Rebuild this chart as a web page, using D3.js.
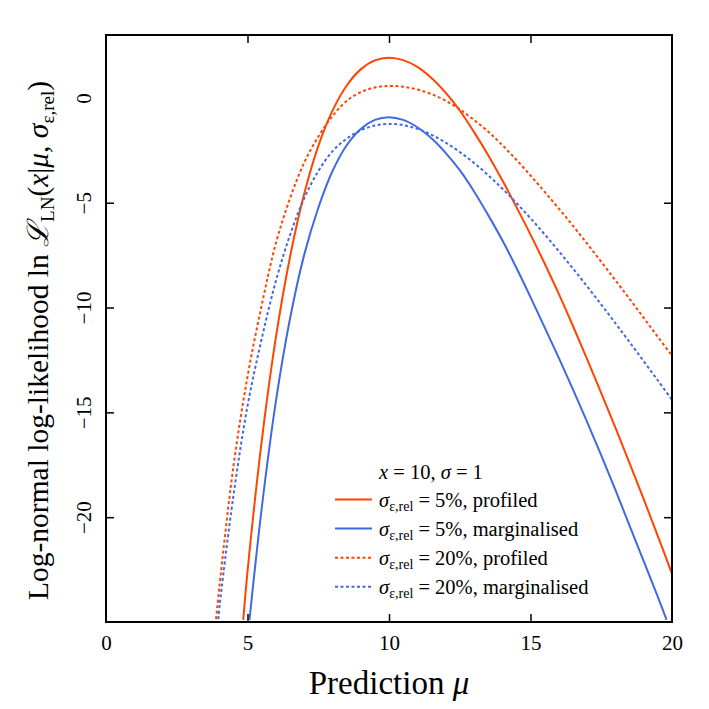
<!DOCTYPE html>
<html>
<head>
<meta charset="utf-8">
<script src="https://cdn.jsdelivr.net/npm/d3@7"></script>
<style>
  body { margin: 0; background: #fff; }
  text { font-family: "Liberation Serif", "DejaVu Serif", serif; fill: #000; }
</style>
</head>
<body>
<script>
// values
var muProf5  = [4.85, 5.0, 5.5, 6.0, 6.5, 7.0, 7.5, 8.0, 8.5, 9.0, 9.5, 10.0, 10.5, 11.0, 11.5, 12.0, 12.5, 13.0, 13.5, 14.0, 14.5, 15.0, 15.5, 16.0, 16.5, 17.0, 17.5, 18.0, 18.5, 19.0, 19.5, 20.0];
var llProf5  = [-24.9, -22.6, -16.4, -11.45, -7.6, -4.6, -2.3, -0.62, 0.58, 1.36, 1.79, 1.92, 1.8, 1.48, 0.95, 0.25, -0.6, -1.62, -2.72, -3.92, -5.2, -6.52, -7.9, -9.35, -10.88, -12.46, -14.08, -15.73, -17.42, -19.14, -20.9, -22.7];

var muMarg5  = [5.07, 5.5, 6.0, 6.5, 7.0, 7.5, 8.0, 8.5, 9.0, 9.5, 10.0, 10.5, 11.0, 11.5, 12.0, 12.5, 13.0, 13.5, 14.0, 14.5, 15.0, 15.5, 16.0, 16.5, 17.0, 17.5, 18.0, 18.5, 19.0, 19.5, 19.81];
var llMarg5  = [-24.9, -19.6, -14.5, -10.55, -7.5, -5.25, -3.5, -2.27, -1.48, -1.05, -0.92, -1.05, -1.4, -1.93, -2.62, -3.45, -4.45, -5.58, -6.78, -8.1, -9.5, -10.95, -12.4, -13.9, -15.45, -17.05, -18.7, -20.4, -22.1, -23.8, -24.9];

var muProf20 = [3.89, 4.0, 4.5, 5.0, 5.5, 6.0, 6.5, 7.0, 7.5, 8.0, 8.5, 9.0, 9.5, 10.0, 10.5, 11.0, 11.5, 12.0, 12.5, 13.0, 13.5, 14.0, 14.5, 15.0, 15.5, 16.0, 16.5, 17.0, 17.5, 18.0, 18.5, 19.0, 19.5, 20.0];
var llProf20 = [-24.86, -23.4, -17.6, -13.3, -9.9, -6.95, -4.8, -3.1, -1.85, -0.87, -0.15, 0.27, 0.5, 0.57, 0.53, 0.4, 0.18, -0.13, -0.55, -1.05, -1.6, -2.25, -2.95, -3.7, -4.48, -5.28, -6.1, -6.95, -7.82, -8.7, -9.59, -10.49, -11.4, -12.3];

var muMarg20 = [3.97, 4.0, 4.5, 5.0, 5.5, 6.0, 6.5, 7.0, 7.5, 8.0, 8.5, 9.0, 9.5, 10.0, 10.5, 11.0, 11.5, 12.0, 12.5, 13.0, 13.5, 14.0, 14.5, 15.0, 15.5, 16.0, 16.5, 17.0, 17.5, 18.0, 18.5, 19.0, 19.5, 20.0];
var llMarg20 = [-24.86, -24.4, -19.0, -14.7, -11.5, -8.75, -6.55, -4.8, -3.5, -2.55, -1.95, -1.55, -1.32, -1.24, -1.3, -1.48, -1.76, -2.13, -2.58, -3.1, -3.68, -4.32, -5.01, -5.74, -6.51, -7.31, -8.14, -8.99, -9.86, -10.75, -11.65, -12.56, -13.48, -14.4];

var xTicks = [0, 5, 10, 15, 20];
var yTicks = [0, -5, -10, -15, -20];
var pcts = ["5%", "5%", "20%", "20%"];
var kinds = ["profiled", "marginalised", "profiled", "marginalised"];

var W = 709, H = 709;
var margin = {left: 106, right: 37, top: 35, bottom: 87};

var svg = d3.select("body").append("svg").attr("width", W).attr("height", H);

var x = d3.scaleLinear().domain([0, 20]).range([margin.left, W - margin.right]);
var y = d3.scaleLinear().domain([-25, 3]).range([H - margin.bottom, margin.top]);

var series = [
  {mu: muProf5,  ll: llProf5,  color: "#ff4500", dash: null},
  {mu: muMarg5,  ll: llMarg5,  color: "#4169e1", dash: null},
  {mu: muProf20, ll: llProf20, color: "#ff4500", dash: "3,2.5"},
  {mu: muMarg20, ll: llMarg20, color: "#4169e1", dash: "3,2.5"}
];

svg.append("clipPath").attr("id", "clip")
  .append("rect")
  .attr("x", x(0)).attr("y", y(3))
  .attr("width", x(20) - x(0)).attr("height", y(-25) - y(3));

var line = d3.line()
  .x(function(d) { return x(d[0]); })
  .y(function(d) { return y(d[1]); })
  .curve(d3.curveCatmullRom.alpha(0.5));

var g = svg.append("g").attr("clip-path", "url(#clip)");
series.forEach(function(s) {
  var pts = s.mu.map(function(m, i) { return [m, s.ll[i]]; });
  g.append("path")
    .attr("d", line(pts))
    .attr("fill", "none")
    .attr("stroke", s.color)
    .attr("stroke-width", 2)
    .attr("stroke-dasharray", s.dash);
});

// frame with inward ticks
var tl = 8;
svg.append("g").attr("transform", "translate(0," + y(-25) + ")")
  .call(d3.axisBottom(x).tickValues(xTicks).tickSizeInner(-tl).tickSizeOuter(0).tickPadding(13).tickFormat(d3.format("d")));
svg.append("g").attr("transform", "translate(0," + y(3) + ")")
  .call(d3.axisTop(x).tickValues(xTicks).tickSizeInner(-tl).tickSizeOuter(0).tickFormat(""));
var yAx = svg.append("g").attr("transform", "translate(" + x(0) + ",0)")
  .call(d3.axisLeft(y).tickValues(yTicks).tickSizeInner(-tl).tickSizeOuter(0)
    .tickFormat(function(d) { return d < 0 ? "\u2212" + (-d) : d; }));
svg.append("g").attr("transform", "translate(" + x(20) + ",0)")
  .call(d3.axisRight(y).tickValues(yTicks).tickSizeInner(-tl).tickSizeOuter(0).tickFormat(""));

svg.selectAll(".domain").remove();
svg.selectAll(".tick line").attr("stroke", "#000").attr("stroke-width", 1.5);
svg.selectAll(".tick text").style("font-family", "'Liberation Serif', serif").style("font-size", "21px").attr("fill", "#000");
svg.selectAll(".tick").filter(function(d) { return d === 0 || d === 20; }).select("line").remove();

// y tick labels are rotated like the axis title
yAx.selectAll(".tick text")
  .attr("x", 0).attr("dy", 0)
  .attr("text-anchor", "middle")
  .attr("transform", "translate(-15,0) rotate(-90)");

svg.append("rect")
  .attr("x", x(0)).attr("y", y(3))
  .attr("width", x(20) - x(0)).attr("height", y(-25) - y(3))
  .attr("fill", "none").attr("stroke", "#000").attr("stroke-width", 2);

// axis labels
svg.append("text")
  .attr("x", (x(0) + x(20)) / 2).attr("y", 694)
  .attr("text-anchor", "middle").style("font-size", "33px")
  .html('Prediction <tspan font-style="italic">\u03bc</tspan>');

var yl = svg.append("text")
  .attr("transform", "translate(48,600) rotate(-90)")
  .attr("text-anchor", "start").style("font-size", "29.5px");
yl.append("tspan").text("Log-normal log-likelihood ln ");
yl.append("tspan").attr("font-style", "italic").text("\u2112");
yl.append("tspan").attr("dy", 6).style("font-size", "19px").text("LN");
yl.append("tspan").attr("dy", -6).text("(");
yl.append("tspan").attr("font-style", "italic").text("x");
yl.append("tspan").text("|");
yl.append("tspan").attr("font-style", "italic").text("\u03bc");
yl.append("tspan").text(", ");
yl.append("tspan").attr("font-style", "italic").text("\u03c3");
yl.append("tspan").attr("dy", 6).style("font-size", "19px").text("\u03b5,rel");
yl.append("tspan").attr("dy", -6).text(")");

// legend
var lg = svg.append("g").attr("transform", "translate(335,472)");
var lt = lg.append("text").attr("x", 44).attr("y", 7).style("font-size", "20.5px");
lt.append("tspan").attr("font-style", "italic").text("x");
lt.append("tspan").text(" = 10, ");
lt.append("tspan").attr("font-style", "italic").text("\u03c3");
lt.append("tspan").text(" = 1");

series.forEach(function(s, i) {
  var yy = 27.5 + i * 29.1;
  lg.append("line")
    .attr("x1", 0).attr("x2", 37).attr("y1", yy).attr("y2", yy)
    .attr("stroke", s.color).attr("stroke-width", 2)
    .attr("stroke-dasharray", s.dash);
  var t = lg.append("text").attr("x", 44).attr("y", yy + 7).style("font-size", "20.5px");
  t.append("tspan").attr("font-style", "italic").text("\u03c3");
  t.append("tspan").attr("dy", 4).style("font-size", "14px").text("\u03b5,rel");
  t.append("tspan").attr("dy", -4).text(" = " + pcts[i] + ", " + kinds[i]);
});
</script>
</body>
</html>
